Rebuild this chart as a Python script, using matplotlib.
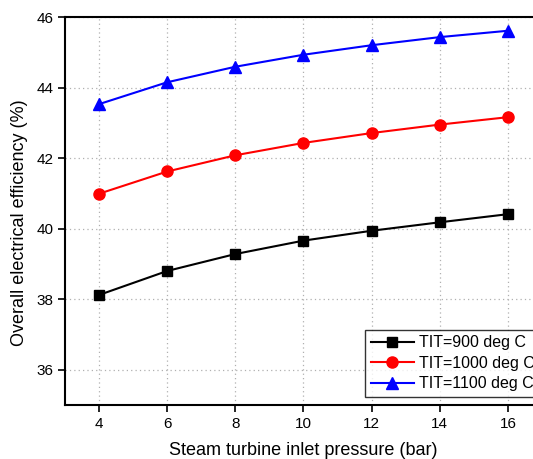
import matplotlib
matplotlib.use("Agg")
import matplotlib.pyplot as plt

plt.rcParams['font.family'] = ['Liberation Sans', 'DejaVu Sans']

pressure = [4, 6, 8, 10, 12, 14, 16]
eff_900 = [38.12, 38.80, 39.28, 39.66, 39.94, 40.18, 40.41]
eff_1000 = [40.99, 41.62, 42.08, 42.43, 42.71, 42.95, 43.16]
eff_1100 = [43.53, 44.15, 44.59, 44.93, 45.20, 45.43, 45.61]
labels = ["TIT=900 deg C", "TIT=1000 deg C", "TIT=1100 deg C"]

W, H = 533, 459
fig = plt.figure(figsize=(W / 100, H / 100), dpi=100)
# axes box: left 65px, top 17px, bottom 405px, right edge runs past the canvas
left, top, bottom, right = 65, 17, 405, 542
ax = fig.add_axes([left / W, 1 - bottom / H, (right - left) / W, (bottom - top) / H])

ax.plot(pressure, eff_900, color='black', marker='s', markersize=7, lw=1.5, label=labels[0])
ax.plot(pressure, eff_1000, color='red', marker='o', markersize=8, lw=1.5, label=labels[1])
ax.plot(pressure, eff_1100, color='blue', marker='^', markersize=9, lw=1.5, label=labels[2])

ax.set_xlim(3, 17)
ax.set_ylim(35, 46)
ax.set_xticks(pressure)
ax.set_yticks([36, 38, 40, 42, 44, 46])
ax.grid(True, linestyle=(0, (1, 2.5)), color='#b0b0b0', lw=0.9)
ax.tick_params(direction='out', length=5, width=1.2, labelsize=11, colors='black')
for s in ax.spines.values():
    s.set_linewidth(1.5)

ax.set_xlabel("Steam turbine inlet pressure (bar)", fontsize=13, labelpad=8)
ax.set_ylabel("Overall electrical efficiency (%)", fontsize=13)
ax.yaxis.set_label_coords(-0.078, 0.47)

leg = ax.legend(loc='lower left', bbox_to_anchor=((365 - left) / (right - left), (405 - 397) / (bottom - top)),
                fontsize=11.5, frameon=True, fancybox=False, edgecolor='black',
                borderpad=0.35, labelspacing=0.35, handlelength=2.7, handletextpad=0.3,
                borderaxespad=0)
leg.get_frame().set_linewidth(1.0)

fig.savefig("out.png", dpi=100)
